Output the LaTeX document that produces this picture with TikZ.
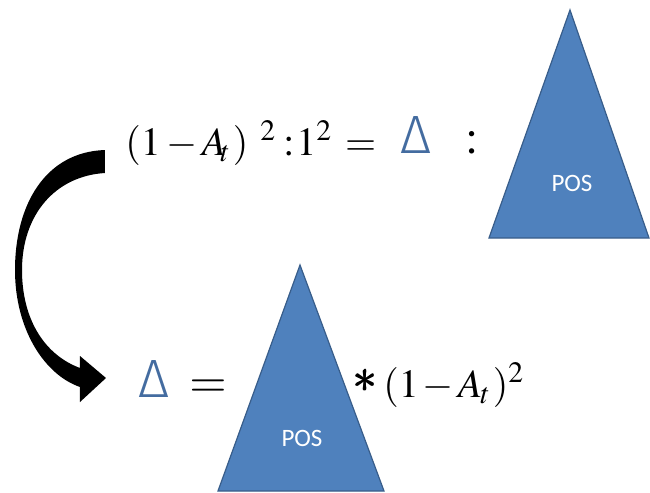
\documentclass[tikz,border=0pt]{standalone}
\usepackage{mathptmx}
\usepackage{amsmath}
\usepackage[no-math]{fontspec}
\newfontfamily\possans{Carlito}
\newfontfamily\thinsans{Fira Sans Light}
\usepackage{tikz}
\usetikzlibrary{positioning}
\definecolor{posblue}{RGB}{79,129,189}
\definecolor{posedge}{RGB}{56,93,138}
\definecolor{deltablue}{RGB}{68,108,160}

\begin{document}
\begin{tikzpicture}[
	x=0.5pt, y=-0.5pt,
	postri/.style={fill=posblue, draw=posedge, line width=0.6pt, line join=miter},
	poslabel/.style={text=white, inner sep=0pt, font=\possans\fontsize{12.5}{14}\selectfont},
	formula/.style={inner sep=0pt, font=\fontsize{20}{24}\selectfont},
	delta/.style={inner sep=0pt, text=deltablue, font=\thinsans\fontsize{27}{30}\selectfont},
	bigsym/.style={inner sep=0pt, font=\fontsize{24}{30}\selectfont}
	]
	\useasboundingbox (0,0) rectangle (650,493);
	
	% the two POS triangles
	\filldraw[postri] (570,10) -- (649,238) -- (489,238) -- cycle;
	\node[poslabel] (postop) at (572,183) {POS};
	\filldraw[postri] (300,265) -- (384,491) -- (218,491) -- cycle;
	\node[poslabel] (posbot) at (302,438) {POS};
	
	% top line
	\node[formula, anchor=base west] (ratio) at (125,155)
		{$(1\kern3pt{-}\kern2pt A\kern-3pt_t\kern1pt)^{\kern6pt 2}\kern3.5pt{:}\kern1pt 1^2\kern6.5pt{=}$};
	\node[delta, anchor=base west] (dtop) at (400,153) {Δ};
	\node[bigsym, anchor=base west] (colon) at (465,153) {$:$};
	
	% bottom line
	\node[delta, anchor=base west] (dbot) at (138,397) {Δ};
	\node[bigsym, anchor=base west] (eq) at (189,397) {$=$};
	\node[bigsym] (star) at (366,381) {\pmb{$\ast$}};
	\node[formula, anchor=base west] (prod) at (383,397)
		{$(1\kern2pt{-}\kern2pt A\kern-1pt_t\kern1pt)^2$};
	
	% curved block arrow
	\fill[black] (105,150) .. controls (45,152) and (15,205) .. (15,270)
		.. controls (15,330) and (45,375) .. (80,387) -- (80,402) -- (106,378)
		-- (80,356) -- (80,368) .. controls (45,355) and (22,320) .. (22,270)
		.. controls (22,215) and (55,176) .. (105,173) -- cycle;
\end{tikzpicture}
\end{document}
